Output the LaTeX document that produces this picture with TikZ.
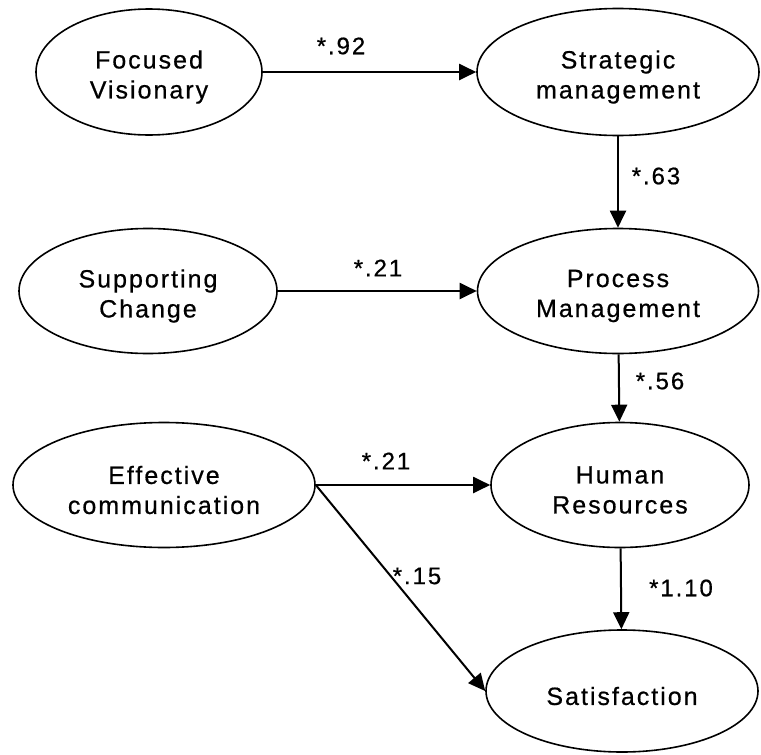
\documentclass[tikz,border=0pt]{standalone}
\usepackage{fontspec}
\setmainfont{Liberation Sans}
\usetikzlibrary{shapes.geometric,arrows.meta}
\newfontfamily\nodefont[LetterSpace=8,FakeBold=0.6]{Liberation Sans}
\begin{document}
\begin{tikzpicture}[x=1pt,y=-1pt,
  construct/.style={draw,ellipse,line width=1.6pt,inner sep=0pt},
  caption/.style={align=center,inner sep=0pt,yshift=-5pt,
    font=\nodefont\fontsize{25}{30}\selectfont},
  path/.style={line width=2pt,-{Triangle[length=17pt,width=16pt]}},
  coef/.style={font=\nodefont\fontsize{24}{28}\selectfont,inner sep=0pt}]
\useasboundingbox (0,0) rectangle (761,755);

% latent constructs
\node[construct,minimum width=226pt,minimum height=126pt] (fv) at (149,72) {};
\node[construct,minimum width=282pt,minimum height=127pt] (sm) at (618,72) {};
\node[construct,minimum width=258pt,minimum height=125pt] (sc) at (148,291) {};
\node[construct,minimum width=281pt,minimum height=125pt] (pm) at (618,291) {};
\node[construct,minimum width=302pt,minimum height=125pt] (ec) at (164,485) {};
\node[construct,minimum width=258pt,minimum height=125pt] (hr) at (620,485) {};
\node[construct,minimum width=272pt,minimum height=122pt] (sa) at (622,691) {};

% construct names
\node[caption] (fvt) at (fv.center) {Focused\\Visionary};
\node[caption] (smt) at (sm.center) {Strategic\\management};
\node[caption] (sct) at (sc.center) {Supporting\\Change};
\node[caption] (pmt) at (pm.center) {Process\\Management};
\node[caption] (ect) at (ec.center) {Effective\\communication};
\node[caption] (hrt) at (hr.center) {Human\\Resources};
\node[caption] (sat) at (sa.center) {Satisfaction};

% structural paths
\draw[path] (fv) -- (sm);
\draw[path] (sc) -- (pm);
\draw[path] (sm) -- (pm);
\draw[path] (pm) -- (hr);
\draw[path] (ec) -- (hr);
\draw[path] (hr) -- (sa);
\draw[path] (ec.east) -- (sa.west);

% path coefficients
\node[coef] (c1) at (341,46) {*.92};
\node[coef] (c2) at (378,268) {*.21};
\node[coef] (c3) at (656,176) {*.63};
\node[coef] (c4) at (660,381) {*.56};
\node[coef] (c5) at (386,461) {*.21};
\node[coef] (c6) at (417,576) {*.15};
\node[coef] (c7) at (681,588) {*1.10};
\end{tikzpicture}
\end{document}
